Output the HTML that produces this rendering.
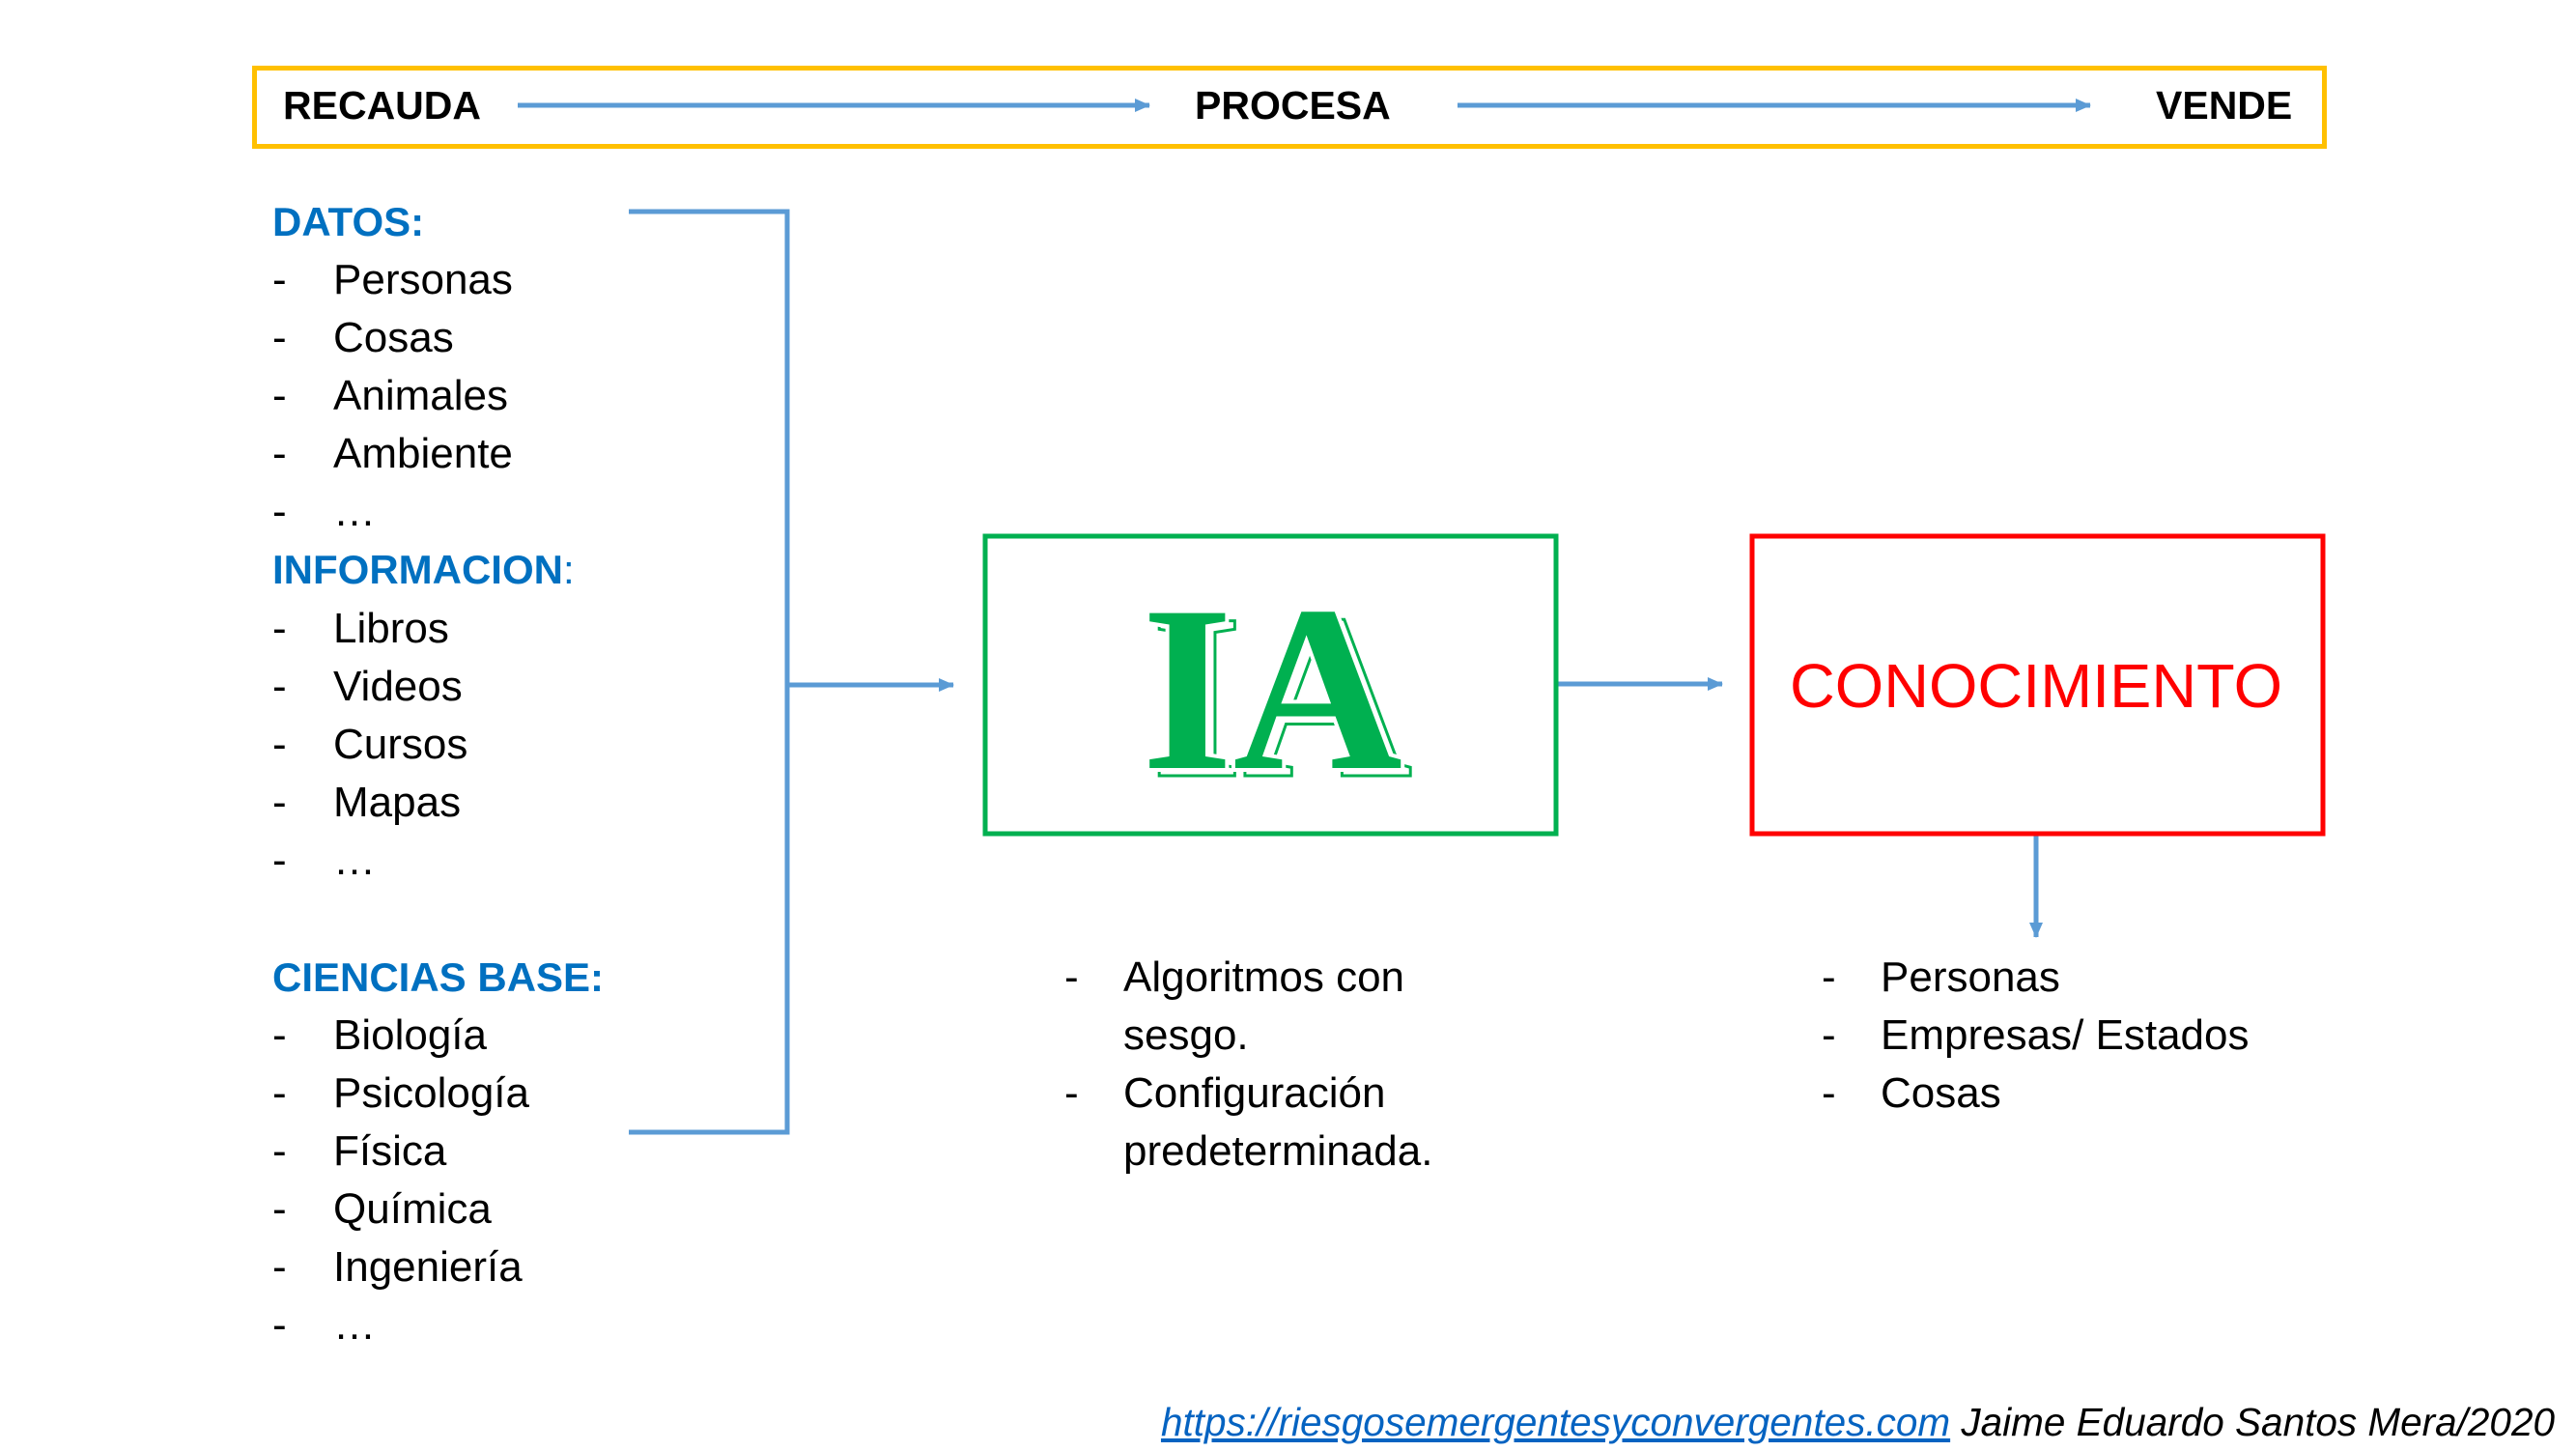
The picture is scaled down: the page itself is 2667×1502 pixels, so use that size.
<!DOCTYPE html>
<html><head><meta charset="utf-8"><style>
body{margin:0;width:2667px;height:1500px;background:#fff;position:relative;overflow:hidden;font-family:"Liberation Sans",sans-serif;}
.t{position:absolute;white-space:nowrap;line-height:60px;font-size:44px;color:#000;}
.h{color:#0070C0;font-weight:bold;font-size:42px;}
.b{font-weight:bold;font-size:41px;}
</style></head><body>
<div style="position:absolute;left:261px;top:68px;width:2138px;height:76px;border:5px solid #FFC000;"></div>
<div class="t b" style="left:293px;top:79px;">RECAUDA</div>
<div class="t b" style="left:1237px;top:79px;">PROCESA</div>
<div class="t b" style="left:2232px;top:79px;">VENDE</div>

<svg width="2667" height="1500" style="position:absolute;left:0;top:0">
<defs><marker id="m" markerWidth="16" markerHeight="14" refX="15" refY="7" orient="auto" markerUnits="userSpaceOnUse"><path d="M0,0 L16,7 L0,14z" fill="#5B9BD5"/></marker></defs>
<g stroke="#5B9BD5" stroke-width="5" fill="none">
<line x1="536" y1="109" x2="1190" y2="109" marker-end="url(#m)"/>
<line x1="1509" y1="109" x2="2164" y2="109" marker-end="url(#m)"/>
<polyline points="651,219 815,219 815,1172 651,1172"/>
<line x1="815" y1="709" x2="987" y2="709" marker-end="url(#m)"/>
<line x1="1612" y1="708" x2="1783" y2="708" marker-end="url(#m)"/>
<line x1="2108" y1="864" x2="2108" y2="970" marker-end="url(#m)"/>
</g>
<rect x="1020" y="555" width="591" height="308" fill="none" stroke="#00B050" stroke-width="5"/>
<rect x="1814" y="555" width="591" height="308" fill="none" stroke="#FF0000" stroke-width="5"/>
<g font-family="Liberation Serif,serif" font-weight="bold" font-size="245">
<text x="1192" y="803" fill="none" stroke="#00B050" stroke-width="3" textLength="270" lengthAdjust="spacingAndGlyphs">IA</text>
<text x="1182" y="795" fill="#fff" stroke="#fff" stroke-width="8" textLength="270" lengthAdjust="spacingAndGlyphs">IA</text>
<text x="1182" y="795" fill="#00B050" textLength="270" lengthAdjust="spacingAndGlyphs">IA</text>
</g>
<text x="2108" y="732" text-anchor="middle" font-family="Liberation Sans,sans-serif" font-size="64" fill="#FF0000" textLength="510" lengthAdjust="spacingAndGlyphs">CONOCIMIENTO</text>
</svg>

<div class="t h" style="left:282px;top:200px;">DATOS:</div>
<div class="t" style="left:282px;top:260px;">-</div><div class="t" style="left:345px;top:260px;">Personas</div>
<div class="t" style="left:282px;top:320px;">-</div><div class="t" style="left:345px;top:320px;">Cosas</div>
<div class="t" style="left:282px;top:380px;">-</div><div class="t" style="left:345px;top:380px;">Animales</div>
<div class="t" style="left:282px;top:440px;">-</div><div class="t" style="left:345px;top:440px;">Ambiente</div>
<div class="t" style="left:282px;top:500px;">-</div><div class="t" style="left:345px;top:500px;">…</div>
<div class="t h" style="left:282px;top:560px;">INFORMACION<span style="font-weight:normal">:</span></div>
<div class="t" style="left:282px;top:621px;">-</div><div class="t" style="left:345px;top:621px;">Libros</div>
<div class="t" style="left:282px;top:681px;">-</div><div class="t" style="left:345px;top:681px;">Videos</div>
<div class="t" style="left:282px;top:741px;">-</div><div class="t" style="left:345px;top:741px;">Cursos</div>
<div class="t" style="left:282px;top:801px;">-</div><div class="t" style="left:345px;top:801px;">Mapas</div>
<div class="t" style="left:282px;top:861px;">-</div><div class="t" style="left:345px;top:861px;">…</div>
<div class="t h" style="left:282px;top:982px;">CIENCIAS BASE:</div>
<div class="t" style="left:282px;top:1042px;">-</div><div class="t" style="left:345px;top:1042px;">Biología</div>
<div class="t" style="left:282px;top:1102px;">-</div><div class="t" style="left:345px;top:1102px;">Psicología</div>
<div class="t" style="left:282px;top:1162px;">-</div><div class="t" style="left:345px;top:1162px;">Física</div>
<div class="t" style="left:282px;top:1222px;">-</div><div class="t" style="left:345px;top:1222px;">Química</div>
<div class="t" style="left:282px;top:1282px;">-</div><div class="t" style="left:345px;top:1282px;">Ingeniería</div>
<div class="t" style="left:282px;top:1342px;">-</div><div class="t" style="left:345px;top:1342px;">…</div>

<div class="t" style="left:1102px;top:982px;">-</div><div class="t" style="left:1163px;top:982px;">Algoritmos con</div>
<div class="t" style="left:1163px;top:1042px;">sesgo.</div>
<div class="t" style="left:1102px;top:1102px;">-</div><div class="t" style="left:1163px;top:1102px;">Configuración</div>
<div class="t" style="left:1163px;top:1162px;">predeterminada.</div>

<div class="t" style="left:1886px;top:982px;">-</div><div class="t" style="left:1947px;top:982px;">Personas</div>
<div class="t" style="left:1886px;top:1042px;">-</div><div class="t" style="left:1947px;top:1042px;">Empresas/ Estados</div>
<div class="t" style="left:1886px;top:1102px;">-</div><div class="t" style="left:1947px;top:1102px;">Cosas</div>

<div class="t" style="right:22px;top:1442px;font-style:italic;font-size:40.5px;"><span style="color:#0563C1;text-decoration:underline;">https://riesgosemergentesyconvergentes.com</span> Jaime Eduardo Santos Mera/2020</div>
</body></html>
